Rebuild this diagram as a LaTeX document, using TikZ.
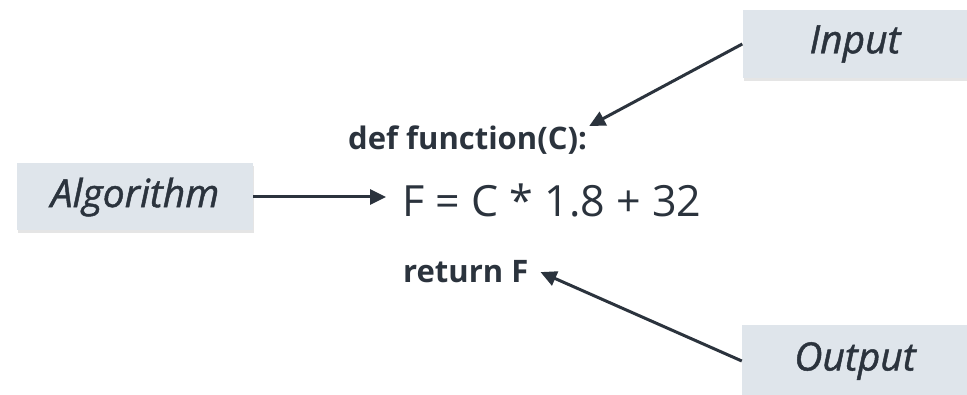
\documentclass[tikz,border=0pt]{standalone}
\usepackage{fontspec}
\setmainfont{Open Sans}
\newfontfamily\labelfont[FakeBold=1.2]{Open Sans Italic}
\usetikzlibrary{arrows.meta,shadows}
\definecolor{boxfill}{HTML}{DFE5EB}
\definecolor{ink}{HTML}{2B333D}
\begin{document}
\begin{tikzpicture}[x=1pt,y=-1pt,
  labelbox/.style={rectangle, fill=boxfill, draw=none, text=ink, inner sep=0pt,
    font=\labelfont\fontsize{39}{42}\selectfont,
    drop shadow={shadow xshift=1pt, shadow yshift=-3pt, opacity=0.25, fill=black!40}},
  codebold/.style={inner sep=0pt, anchor=base west, text=ink, font=\fontsize{31}{34}\selectfont\bfseries},
  codeplain/.style={inner sep=0pt, anchor=base west, text=ink, font=\fontsize{43}{46}\selectfont},
  conn/.style={draw=ink, line width=3pt, -{Triangle[length=16pt,width=15pt]}}]
\useasboundingbox (0,0) rectangle (967,395);
\fill[white] (0,0) rectangle (967,395);
\node[labelbox, minimum width=225pt, minimum height=68pt] (inp) at (855,44) {Input};
\node[labelbox, minimum width=236pt, minimum height=67pt] (alg) at (135,197) {Algorithm};
\node[labelbox, minimum width=226pt, minimum height=72pt] (out) at (855,361) {Output};
\node[codebold] (def) at (348,150) {def function(C):};
\node[codeplain] (eq) at (402,217) {F = C * 1.8 + 32};
\node[codebold] (ret) at (403,283) {return F};
\draw[conn] (inp.west) -- ([xshift=2pt,yshift=0pt]def.north east);
\draw[conn] (alg.east) -- ([xshift=-16pt]alg.east -| eq.west);
\draw[conn] (out.west) -- ([xshift=12pt,yshift=0pt]ret.east);
\end{tikzpicture}
\end{document}
